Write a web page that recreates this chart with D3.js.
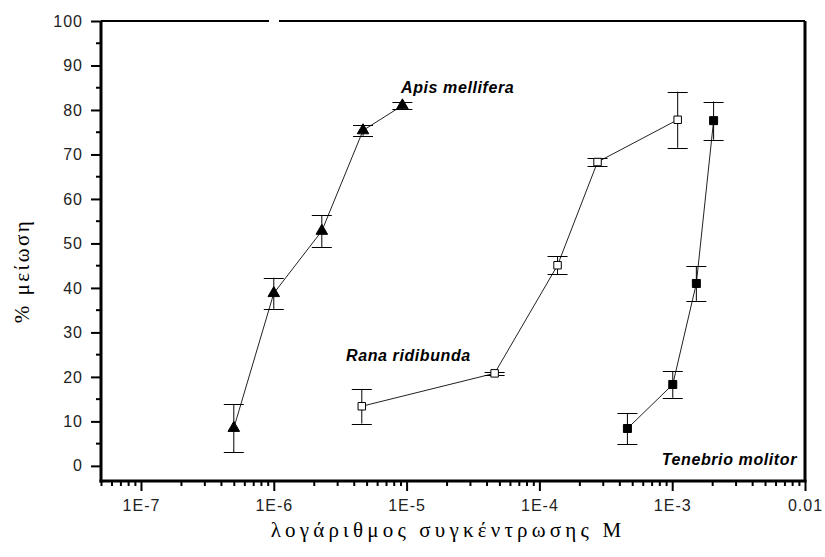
<!DOCTYPE html>
<html lang="el">
	<head>
		<meta charset="utf-8">
		<title>% μείωση vs log concentration</title>
		<script src="https://d3js.org/d3.v7.min.js"></script>
		<style>
			body { margin: 0; background: #fff; }
		</style>
	</head>
	<body>
		<script type="text/javascript">
			// window size setup
			var w = 825
			var h = 557

			// data: three species, concentration (M), % reduction, error (+/-)
			var apisX = [5e-7, 1e-6, 2.3e-6, 4.7e-6, 9.3e-6]
			var apisY = [8.5, 38.8, 52.8, 75.4, 81.0]
			var apisErr = [5.4, 3.5, 3.6, 1.2, 0.7]

			var ranaX = [4.6e-6, 4.6e-5, 1.37e-4, 2.74e-4, 1.1e-3]
			var ranaY = [13.4, 20.8, 45.1, 68.3, 77.8]
			var ranaErr = [3.9, 0.4, 2.0, 0.9, 6.3]

			var tenX = [4.6e-4, 1.01e-3, 1.52e-3, 2.05e-3]
			var tenY = [8.4, 18.3, 41.0, 77.6]
			var tenErr = [3.5, 3.0, 3.9, 4.3]

			var seriesNames = ["Apis mellifera", "Rana ridibunda", "Tenebrio molitor"]

			// tick labels
			var xTickValues = [1e-7, 1e-6, 1e-5, 1e-4, 1e-3, 1e-2]
			var xTickLabels = ["1E-7", "1E-6", "1E-5", "1E-4", "1E-3", "0.01"]
			var yTickValues = [0, 10, 20, 30, 40, 50, 60, 70, 80, 90, 100]

			var xTitle = "λογάριθμος συγκέντρωσης Μ"
			var yTitle = "% μείωση"

			// scales
			var xScale = d3.scaleLog()
							.domain([5e-8, 1e-2])
							.range([101, 805])
			var yScale = d3.scaleLinear()
							.domain([-3.4, 100])
							.range([481, 21])

			var svg = d3.select("body")
						.append("svg")
						.attr("width", w)
						.attr("height", h)

			// minor ticks on x: every multiple inside each decade
			var xMinor = []
			for (var e = -8; e <= -2; e++) {
				for (var m = 1; m < 10; m++) {
					var v = +(m * Math.pow(10, e)).toPrecision(3)
					if (v >= 5e-8 * 0.999 && v <= 1e-2 * 1.001) xMinor.push(v)
				}
			}

			var isMajor = function(d){
				return xTickValues.findIndex(function(t){ return Math.abs(t - d) / t < 1e-6 })
			}

			var xAxis = d3.axisBottom(xScale)
							.tickValues(xMinor)
							.tickSizeOuter(0)
							.tickFormat(function(d){
								var i = isMajor(d)
								return i >= 0 ? xTickLabels[i] : ""
							})

			var gx = svg.append("g")
						.attr("transform", "translate(0," + 481 + ")")
						.call(xAxis)
			gx.select(".domain").remove()
			gx.selectAll(".tick line")
				.attr("stroke", "#000")
				.attr("stroke-width", 2)
				.attr("y2", function(d){ return isMajor(d) >= 0 ? 10 : 5 })
			gx.selectAll(".tick text")
				.attr("y", 19)
				.attr("font-family", "Liberation Sans, Arial, sans-serif")
				.attr("font-size", "16px")
				.attr("letter-spacing", "1px")
				.attr("fill", "#222")

			// y axis: major every 10, minor every 5
			var yMinor = d3.range(5, 100, 10)
			var yAxis = d3.axisLeft(yScale)
							.tickValues(yTickValues)
							.tickSize(10)
							.tickSizeOuter(0)
							.tickPadding(8)
			var gy = svg.append("g")
						.attr("transform", "translate(" + 101 + ",0)")
						.call(yAxis)
			gy.select(".domain").remove()
			gy.selectAll(".tick line")
				.attr("stroke", "#000")
				.attr("stroke-width", 2)
			gy.selectAll(".tick text")
				.attr("font-family", "Liberation Sans, Arial, sans-serif")
				.attr("font-size", "16px")
				.attr("letter-spacing", "1px")
				.attr("fill", "#222")

			gy.selectAll(".minor")
				.data(yMinor)
				.enter()
				.append("line")
				.attr("x1", -5)
				.attr("x2", 0)
				.attr("y1", function(d){ return yScale(d) })
				.attr("y2", function(d){ return yScale(d) })
				.attr("stroke", "#000")
				.attr("stroke-width", 2)

			// frame
			var x0 = xScale.range()[0], x1 = xScale.range()[1]
			var y0 = yScale.range()[0], y1 = yScale.range()[1]
			svg.append("line").attr("x1", x0).attr("x2", x0).attr("y1", y1).attr("y2", y0 + 1.5)
				.attr("stroke", "#000").attr("stroke-width", 3)
			svg.append("line").attr("x1", x0 - 1.5).attr("x2", x1 + 1.5).attr("y1", y0).attr("y2", y0)
				.attr("stroke", "#000").attr("stroke-width", 3)
			svg.append("line").attr("x1", x1).attr("x2", x1).attr("y1", y1).attr("y2", y0)
				.attr("stroke", "#000").attr("stroke-width", 3)
			// top line has a small gap in the original
			svg.append("line").attr("x1", x0).attr("x2", 269).attr("y1", y1).attr("y2", y1)
				.attr("stroke", "#000").attr("stroke-width", 2)
			svg.append("line").attr("x1", 279).attr("x2", x1).attr("y1", y1).attr("y2", y1)
				.attr("stroke", "#000").attr("stroke-width", 2)

			// series
			var series = [
				{ xs: apisX, ys: apisY, err: apisErr, shape: d3.symbolTriangle, size: 58, fill: "#000" },
				{ xs: ranaX, ys: ranaY, err: ranaErr, shape: d3.symbolSquare, size: 56, fill: "#fff" },
				{ xs: tenX, ys: tenY, err: tenErr, shape: d3.symbolSquare, size: 64, fill: "#000" }
			]

			var line = d3.line()
						.x(function(d){ return xScale(d[0]) })
						.y(function(d){ return yScale(d[1]) })

			series.forEach(function(s){
				var pts = s.xs.map(function(x, i){ return [x, s.ys[i], s.err[i]] })
				var g = svg.append("g")

				g.append("path")
					.datum(pts)
					.attr("d", line)
					.attr("fill", "none")
					.attr("stroke", "#222")
					.attr("stroke-width", 1)

				var eb = g.selectAll(".err")
							.data(pts)
							.enter()
							.append("g")
				eb.append("line")
					.attr("x1", function(d){ return xScale(d[0]) })
					.attr("x2", function(d){ return xScale(d[0]) })
					.attr("y1", function(d){ return yScale(d[1] - d[2]) })
					.attr("y2", function(d){ return yScale(d[1] + d[2]) })
					.attr("stroke", "#000")
				;[-1, 1].forEach(function(sgn){
					eb.append("line")
						.attr("x1", function(d){ return xScale(d[0]) - 10 })
						.attr("x2", function(d){ return xScale(d[0]) + 10 })
						.attr("y1", function(d){ return Math.round(yScale(d[1] + sgn * d[2])) + 0.5 })
						.attr("y2", function(d){ return Math.round(yScale(d[1] + sgn * d[2])) + 0.5 })
						.attr("stroke", "#000")
				})

				g.selectAll(".pt")
					.data(pts)
					.enter()
					.append("path")
					.attr("d", d3.symbol().type(s.shape).size(s.size))
					.attr("transform", function(d){
						return "translate(" + xScale(d[0]) + "," + yScale(d[1]) + ")"
					})
					.attr("fill", s.fill)
					.attr("stroke", "#000")
					.attr("stroke-width", 1)
			})

			// series labels
			var labels = [
				{ text: seriesNames[0], x: 401, y: 93, anchor: "start" },
				{ text: seriesNames[1], x: 346, y: 361, anchor: "start" },
				{ text: seriesNames[2], x: 797, y: 465, anchor: "end" }
			]
			svg.selectAll(".lab")
				.data(labels)
				.enter()
				.append("text")
				.text(function(d){ return d.text })
				.attr("x", function(d){ return d.x })
				.attr("y", function(d){ return d.y })
				.attr("text-anchor", function(d){ return d.anchor })
				.attr("font-family", "Liberation Sans, Arial, sans-serif")
				.attr("font-size", "16px")
				.attr("font-weight", "bold")
				.attr("font-style", "italic")
				.attr("letter-spacing", "0.6px")
				.attr("fill", "#000")

			// axis titles
			svg.append("text")
				.text(xTitle)
				.attr("x", 448)
				.attr("y", 537)
				.attr("text-anchor", "middle")
				.attr("font-family", "Liberation Serif, Times New Roman, serif")
				.attr("font-size", "21px")
				.attr("letter-spacing", "4.2px")
				.attr("fill", "#000")

			svg.append("text")
				.text(yTitle)
				.attr("transform", "translate(29,271) rotate(-90)")
				.attr("text-anchor", "middle")
				.attr("font-family", "Liberation Serif, Times New Roman, serif")
				.attr("font-size", "21px")
				.attr("letter-spacing", "2.5px")
				.attr("fill", "#000")
		</script>
	</body>
</html>
